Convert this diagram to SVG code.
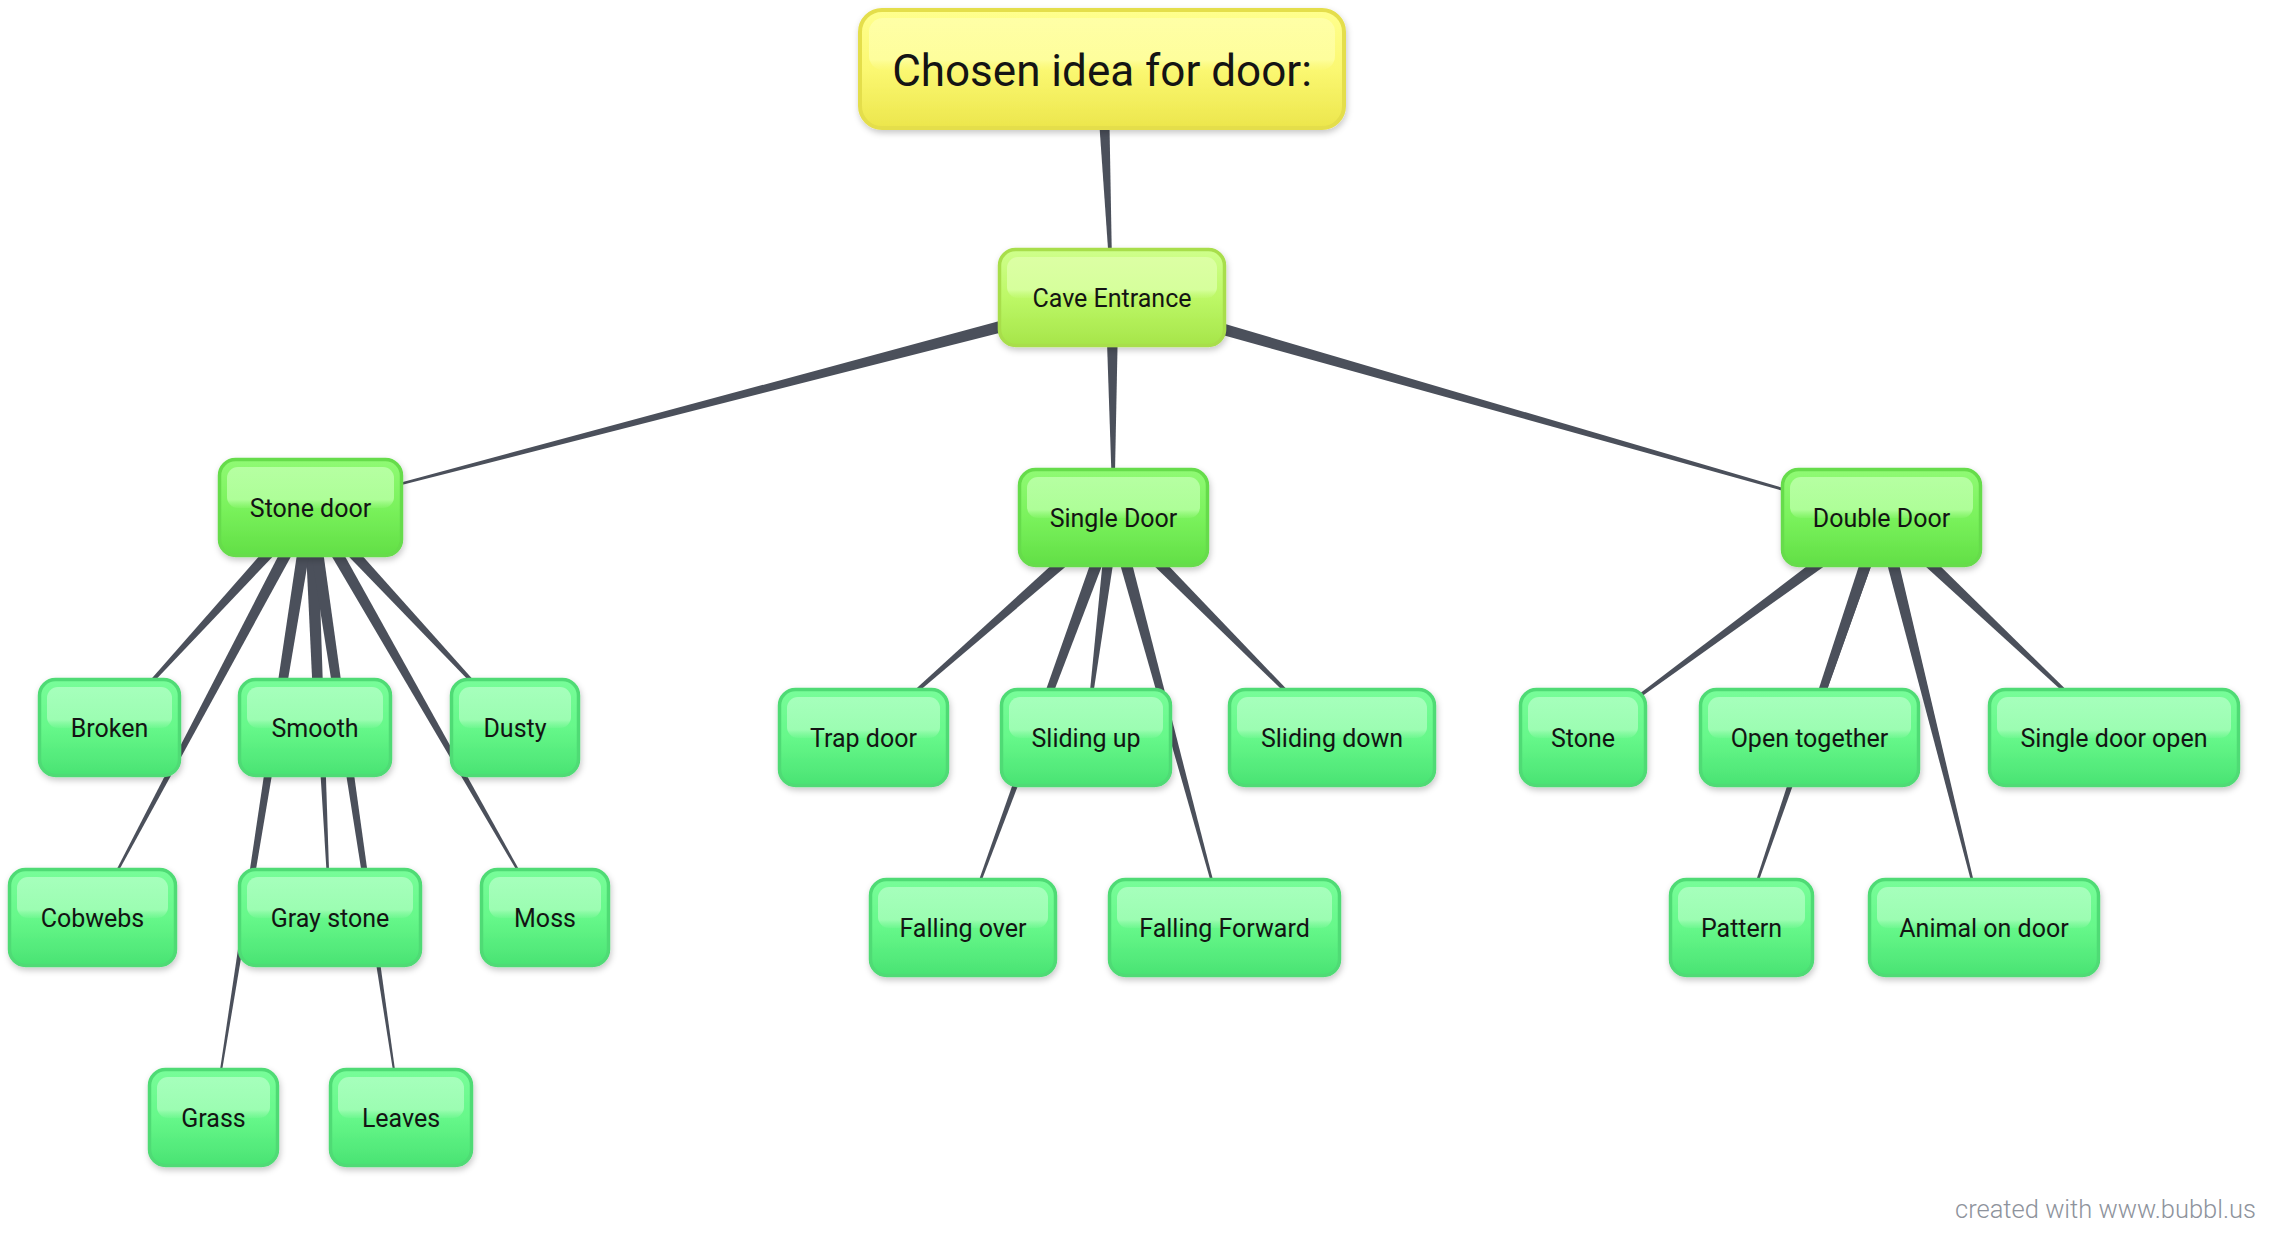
<svg xmlns="http://www.w3.org/2000/svg" width="2272" height="1240" viewBox="0 0 2272 1240">
<defs>
<linearGradient id="gLeaf" x1="0" y1="0" x2="0" y2="1"><stop offset="0" stop-color="#78fd99"/><stop offset="0.5" stop-color="#66f88a"/><stop offset="1" stop-color="#4ae373"/></linearGradient>
<linearGradient id="hLeaf" x1="0" y1="0" x2="0" y2="1"><stop offset="0" stop-color="#a6ffbc"/><stop offset="0.8" stop-color="#9cfdb2"/><stop offset="1" stop-color="#8cf9a6" stop-opacity="0.2"/></linearGradient>
<linearGradient id="gMid" x1="0" y1="0" x2="0" y2="1"><stop offset="0" stop-color="#90fa74"/><stop offset="0.5" stop-color="#7af25c"/><stop offset="1" stop-color="#62df46"/></linearGradient>
<linearGradient id="hMid" x1="0" y1="0" x2="0" y2="1"><stop offset="0" stop-color="#b6ffa2"/><stop offset="0.8" stop-color="#aefe98"/><stop offset="1" stop-color="#9cfa86" stop-opacity="0.2"/></linearGradient>
<linearGradient id="gCave" x1="0" y1="0" x2="0" y2="1"><stop offset="0" stop-color="#cfff8c"/><stop offset="0.5" stop-color="#bdf866"/><stop offset="1" stop-color="#a6e54a"/></linearGradient>
<linearGradient id="hCave" x1="0" y1="0" x2="0" y2="1"><stop offset="0" stop-color="#dcffa4"/><stop offset="0.8" stop-color="#d6ff9c"/><stop offset="1" stop-color="#c8fc86" stop-opacity="0.2"/></linearGradient>
<linearGradient id="gRoot" x1="0" y1="0" x2="0" y2="1"><stop offset="0" stop-color="#ffff8e"/><stop offset="0.5" stop-color="#fbf872"/><stop offset="1" stop-color="#ece64c"/></linearGradient>
<linearGradient id="hRoot" x1="0" y1="0" x2="0" y2="1"><stop offset="0" stop-color="#ffffa6"/><stop offset="0.8" stop-color="#fefe9c"/><stop offset="1" stop-color="#fbfa86" stop-opacity="0.2"/></linearGradient>
<filter id="sh" x="-10%" y="-10%" width="125%" height="135%"><feDropShadow dx="1" dy="3" stdDeviation="3" flood-color="#000" flood-opacity="0.22"/></filter>
</defs>
<style>
.box{stroke-width:3.5;filter:url(#sh)}
.leaf .box{fill:url(#gLeaf);stroke:#4fdb75}
.leaf .hi{fill:url(#hLeaf)}
.mid .box{fill:url(#gMid);stroke:#66dc4b}
.mid .hi{fill:url(#hMid)}
.cave .box{fill:url(#gCave);stroke:#a8de4c}
.cave .hi{fill:url(#hCave)}
.root .box{fill:url(#gRoot);stroke:#e4de4c;stroke-width:4}
.root .hi{fill:url(#hRoot)}
text{font-family:Roboto,"Liberation Sans",sans-serif;fill:#141414;text-anchor:middle}
.t{font-size:25px}
.tr{font-size:44px}
.conn polygon{fill:#4b505b}
.wm{font-size:25.5px;font-weight:300;fill:#8e939c;text-anchor:end}
</style>
<rect width="2272" height="1240" fill="#ffffff"/>
<g id="connectors" class="conn">
<polygon points="1095.5,69.3 1111.4,297.5 1112.6,297.5 1108.5,68.7"/>
<polygon points="1110.4,291.2 310.4,506.9 310.7,508.1 1113.6,303.8"/>
<polygon points="1105.5,297.5 1112.9,517.5 1114.1,517.5 1118.5,297.5"/>
<polygon points="1110.2,303.8 1881.3,518.1 1881.7,516.9 1113.8,291.3"/>
<polygon points="305.7,503.1 109.1,727.1 109.9,727.9 315.3,511.9"/>
<polygon points="304.8,504.5 92.0,917.2 93.0,917.8 316.2,510.6"/>
<polygon points="304.0,507.6 314.4,727.5 315.6,727.5 317.0,507.4"/>
<polygon points="304.0,507.8 329.4,917.5 330.6,917.5 317.0,507.2"/>
<polygon points="304.1,506.5 212.9,1117.4 214.1,1117.6 316.9,508.5"/>
<polygon points="304.1,508.5 400.4,1117.6 401.6,1117.4 316.9,506.6"/>
<polygon points="305.7,511.9 514.6,727.9 515.4,727.1 315.3,503.1"/>
<polygon points="304.9,510.7 544.5,917.8 545.5,917.2 316.1,504.3"/>
<polygon points="1109.2,512.6 863.1,737.1 863.9,738.0 1117.8,522.4"/>
<polygon points="1107.1,516.7 1085.4,737.4 1086.6,737.6 1120.0,518.3"/>
<polygon points="1107.4,515.3 962.4,927.3 963.6,927.7 1119.6,519.7"/>
<polygon points="1107.2,519.2 1223.9,927.7 1225.1,927.3 1119.8,515.8"/>
<polygon points="1108.9,522.1 1331.6,737.9 1332.4,737.1 1118.1,512.9"/>
<polygon points="1877.6,512.3 1582.6,737.0 1583.4,738.0 1885.4,522.7"/>
<polygon points="1875.3,515.5 1808.9,737.3 1810.1,737.7 1887.7,519.5"/>
<polygon points="1875.4,515.4 1740.9,927.3 1742.1,927.7 1887.7,519.6"/>
<polygon points="1875.2,519.1 1983.4,927.7 1984.6,927.4 1887.8,515.9"/>
<polygon points="1877.0,522.2 2113.6,737.9 2114.4,737.1 1886.0,512.8"/>
</g>
<g id="root" class="root"><rect class="box" x="860" y="10" width="484" height="118" rx="22"/><rect class="hi" x="869" y="18" width="466" height="52" rx="14"/><text class="tr" x="1102" y="85.5">Chosen idea for door:</text></g>
<g id="cave-entrance" class="cave"><rect class="box" x="999.5" y="249.5" width="225" height="96" rx="16"/><rect class="hi" x="1007" y="257" width="210" height="41" rx="11"/><text class="t" x="1112" y="306.5">Cave Entrance</text></g>
<g id="stone-door" class="mid"><rect class="box" x="219.5" y="459.5" width="182" height="96" rx="16"/><rect class="hi" x="227" y="467" width="167" height="41" rx="11"/><text class="t" x="310.5" y="516.5">Stone door</text></g>
<g id="single-door" class="mid"><rect class="box" x="1019.5" y="469.5" width="188" height="96" rx="16"/><rect class="hi" x="1027" y="477" width="173" height="41" rx="11"/><text class="t" x="1113.5" y="526.5">Single Door</text></g>
<g id="double-door" class="mid"><rect class="box" x="1782.5" y="469.5" width="198" height="96" rx="16"/><rect class="hi" x="1790" y="477" width="183" height="41" rx="11"/><text class="t" x="1881.5" y="526.5">Double Door</text></g>
<g id="broken" class="leaf"><rect class="box" x="39.5" y="679.5" width="140" height="96" rx="16"/><rect class="hi" x="47" y="687" width="125" height="41" rx="11"/><text class="t" x="109.5" y="736.5">Broken</text></g>
<g id="smooth" class="leaf"><rect class="box" x="239.5" y="679.5" width="151" height="96" rx="16"/><rect class="hi" x="247" y="687" width="136" height="41" rx="11"/><text class="t" x="315" y="736.5">Smooth</text></g>
<g id="dusty" class="leaf"><rect class="box" x="451.5" y="679.5" width="127" height="96" rx="16"/><rect class="hi" x="459" y="687" width="112" height="41" rx="11"/><text class="t" x="515" y="736.5">Dusty</text></g>
<g id="cobwebs" class="leaf"><rect class="box" x="9.5" y="869.5" width="166" height="96" rx="16"/><rect class="hi" x="17" y="877" width="151" height="41" rx="11"/><text class="t" x="92.5" y="926.5">Cobwebs</text></g>
<g id="gray-stone" class="leaf"><rect class="box" x="239.5" y="869.5" width="181" height="96" rx="16"/><rect class="hi" x="247" y="877" width="166" height="41" rx="11"/><text class="t" x="330" y="926.5">Gray stone</text></g>
<g id="moss" class="leaf"><rect class="box" x="481.5" y="869.5" width="127" height="96" rx="16"/><rect class="hi" x="489" y="877" width="112" height="41" rx="11"/><text class="t" x="545" y="926.5">Moss</text></g>
<g id="grass" class="leaf"><rect class="box" x="149.5" y="1069.5" width="128" height="96" rx="16"/><rect class="hi" x="157" y="1077" width="113" height="41" rx="11"/><text class="t" x="213.5" y="1126.5">Grass</text></g>
<g id="leaves" class="leaf"><rect class="box" x="330.5" y="1069.5" width="141" height="96" rx="16"/><rect class="hi" x="338" y="1077" width="126" height="41" rx="11"/><text class="t" x="401" y="1126.5">Leaves</text></g>
<g id="trap-door" class="leaf"><rect class="box" x="779.5" y="689.5" width="168" height="96" rx="16"/><rect class="hi" x="787" y="697" width="153" height="41" rx="11"/><text class="t" x="863.5" y="746.5">Trap door</text></g>
<g id="sliding-up" class="leaf"><rect class="box" x="1001.5" y="689.5" width="169" height="96" rx="16"/><rect class="hi" x="1009" y="697" width="154" height="41" rx="11"/><text class="t" x="1086" y="746.5">Sliding up</text></g>
<g id="sliding-down" class="leaf"><rect class="box" x="1229.5" y="689.5" width="205" height="96" rx="16"/><rect class="hi" x="1237" y="697" width="190" height="41" rx="11"/><text class="t" x="1332" y="746.5">Sliding down</text></g>
<g id="falling-over" class="leaf"><rect class="box" x="870.5" y="879.5" width="185" height="96" rx="16"/><rect class="hi" x="878" y="887" width="170" height="41" rx="11"/><text class="t" x="963" y="936.5">Falling over</text></g>
<g id="falling-forward" class="leaf"><rect class="box" x="1109.5" y="879.5" width="230" height="96" rx="16"/><rect class="hi" x="1117" y="887" width="215" height="41" rx="11"/><text class="t" x="1224.5" y="936.5">Falling Forward</text></g>
<g id="stone" class="leaf"><rect class="box" x="1520.5" y="689.5" width="125" height="96" rx="16"/><rect class="hi" x="1528" y="697" width="110" height="41" rx="11"/><text class="t" x="1583" y="746.5">Stone</text></g>
<g id="open-together" class="leaf"><rect class="box" x="1700.5" y="689.5" width="218" height="96" rx="16"/><rect class="hi" x="1708" y="697" width="203" height="41" rx="11"/><text class="t" x="1809.5" y="746.5">Open together</text></g>
<g id="single-door-open" class="leaf"><rect class="box" x="1989.5" y="689.5" width="249" height="96" rx="16"/><rect class="hi" x="1997" y="697" width="234" height="41" rx="11"/><text class="t" x="2114" y="746.5">Single door open</text></g>
<g id="pattern" class="leaf"><rect class="box" x="1670.5" y="879.5" width="142" height="96" rx="16"/><rect class="hi" x="1678" y="887" width="127" height="41" rx="11"/><text class="t" x="1741.5" y="936.5">Pattern</text></g>
<g id="animal-on-door" class="leaf"><rect class="box" x="1869.5" y="879.5" width="229" height="96" rx="16"/><rect class="hi" x="1877" y="887" width="214" height="41" rx="11"/><text class="t" x="1984" y="936.5">Animal on door</text></g>
<text class="wm" x="2256" y="1218">created with www.bubbl.us</text>
</svg>
